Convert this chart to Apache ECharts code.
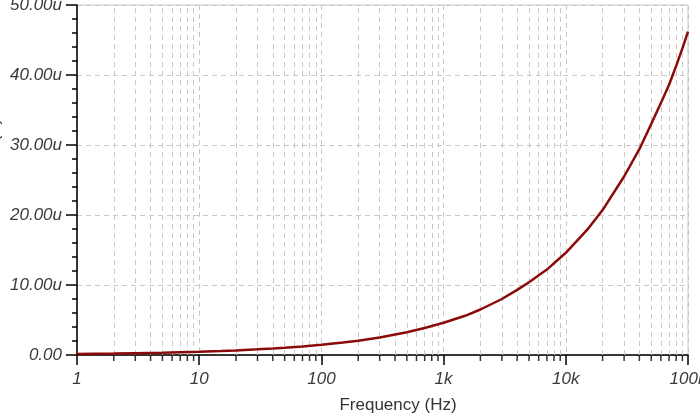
<!DOCTYPE html>
<html>
<head>
<meta charset="utf-8">
<script src="https://cdn.jsdelivr.net/npm/echarts@6/dist/echarts.min.js"></script>
<style>
html,body{margin:0;padding:0;background:#fff;}
#chart{width:700px;height:416px;}
</style>
</head>
<body>
<div id="chart"></div>
<script>
// Frequency (Hz)
var freqs = [1, 2, 3, 5, 7, 10, 15, 20, 30, 40, 50, 70, 100, 150, 200, 300, 500, 700,
  1000, 1500, 2000, 3000, 4000, 5000, 7000, 10000, 15000, 20000, 30000, 40000,
  50000, 60000, 70000, 80000, 90000, 100000];
// Total noise (uV)
var noise = [0.15, 0.2, 0.25, 0.32, 0.39, 0.46, 0.57, 0.66, 0.82, 0.94, 1.05, 1.23, 1.46, 1.78,
  2.05, 2.5, 3.25, 3.85, 4.6, 5.6, 6.5, 8.0, 9.3, 10.4, 12.2, 14.6, 17.9, 20.7, 25.5, 29.4,
  33.0, 36.0, 38.6, 41.3, 43.8, 46.2];
// minor decade positions for ticks and grid lines
var minorFreqs = [2,3,4,5,6,7,8,9, 20,30,40,50,60,70,80,90, 200,300,400,500,600,700,800,900,
  2000,3000,4000,5000,6000,7000,8000,9000, 20000,30000,40000,50000,60000,70000,80000,90000];
var xLabels = {1: '1', 10: '10', 100: '100', 1000: '1k', 10000: '10k', 100000: '100k'};

var chart = echarts.init(document.getElementById('chart'));
var lineData = freqs.map(function (f, i) { return [f, noise[i]]; });
var labelFont = {fontFamily: 'Liberation Sans, Arial, sans-serif', fontStyle: 'italic', fontSize: 17, color: '#3a3a3a'};

chart.setOption({
  animation: false,
  grid: {left: 77, right: 12, top: 5, bottom: 61, containLabel: false, outerBoundsMode: 'none',
    show: true, borderColor: '#c8c8c8', borderWidth: 1},
  xAxis: {
    type: 'log', logBase: 10, min: 1, max: 100000,
    name: 'Frequency (Hz)', nameLocation: 'middle', nameGap: 42, nameMoveOverlap: false,
    nameTextStyle: {fontFamily: 'Liberation Sans, Arial, sans-serif', fontSize: 17, color: '#333', padding: [0, 0, 0, 31]},
    axisLine: {lineStyle: {color: '#000', width: 1.5}},
    axisTick: {length: 10, lineStyle: {color: '#000', width: 1.5}},
    axisLabel: Object.assign({margin: 16, hideOverlap: false, showMaxLabel: true, showMinLabel: true,
      formatter: function (v) { return xLabels[v] !== undefined ? xLabels[v] : ''; }}, labelFont),
    splitLine: {show: true, lineStyle: {color: '#c8c8c8', type: [5, 4], width: 1}}
  },
  yAxis: {
    type: 'value', min: 0, max: 50, interval: 10,
    name: 'Total noise (V)', nameLocation: 'middle', nameGap: 74, nameMoveOverlap: false,
    nameTextStyle: {fontFamily: 'Liberation Sans, Arial, sans-serif', fontSize: 17, color: '#333', padding: [0, 0, 0, 14]},
    axisLine: {show: true, lineStyle: {color: '#000', width: 1.5}},
    axisTick: {show: true, length: 11, lineStyle: {color: '#000', width: 1.5}},
    minorTick: {show: true, splitNumber: 5, length: 5, lineStyle: {color: '#000', width: 1.5}},
    axisLabel: Object.assign({margin: 15, showMaxLabel: true, showMinLabel: true,
      formatter: function (v) { return v === 0 ? '0.00' : v.toFixed(2) + 'u'; }}, labelFont),
    splitLine: {show: true, lineStyle: {color: '#c8c8c8', type: [5, 4], width: 1}}
  },
  series: [
    {
      type: 'scatter', silent: true, clip: false, z: 5,
      data: minorFreqs.map(function (f) { return [f, 0]; }),
      symbol: 'rect', symbolSize: [1.5, 6], symbolOffset: [0, 3],
      itemStyle: {color: '#000'}
    },
    {
      type: 'line', data: lineData, showSymbol: false, smooth: false, z: 10,
      lineStyle: {color: '#8b0a0a', width: 2.5},
      markLine: {
        silent: true, symbol: 'none', label: {show: false},
        lineStyle: {color: '#c8c8c8', type: [5, 4], width: 1},
        data: minorFreqs.map(function (f) { return {xAxis: f}; })
      }
    }
  ]
});
</script>
</body>
</html>
